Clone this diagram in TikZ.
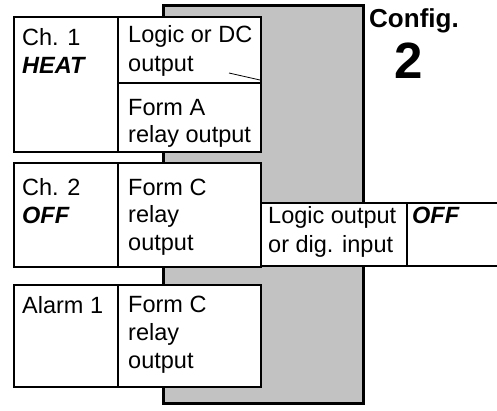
\documentclass[tikz,border=0pt]{standalone}
\usepackage{fontspec}
\setmainfont{Liberation Sans}
\begin{document}
\begin{tikzpicture}[x=1pt,y=-1pt,
  box/.style={draw=black, line width=2pt, fill=white, inner sep=0pt, outer sep=0pt, anchor=north west},
  panel/.style={draw=black, line width=3pt, fill=black!24, inner sep=0pt, outer sep=0pt, anchor=north west},
  lbl/.style={anchor=base west, inner sep=0pt, font=\fontsize{23.5}{26}\selectfont},
  blbl/.style={lbl, font=\fontsize{23.5}{26}\selectfont\bfseries\itshape}]
\useasboundingbox (0,0) rectangle (497,410);
% shaded panel
\node[panel, minimum width=200pt, minimum height=398pt] (panel) at (163,5) {};
% Ch. 1
\node[box, minimum width=104pt, minimum height=135pt] (c1l) at (14,17) {};
\node[box, minimum width=143pt, minimum height=66pt] (c1a) at (118,17) {};
\node[box, minimum width=143pt, minimum height=69pt] (c1b) at (118,83) {};
% Ch. 2
\node[box, minimum width=104pt, minimum height=104pt] (c2l) at (14,163) {};
\node[box, minimum width=143pt, minimum height=104pt] (c2r) at (118,163) {};
% Alarm 1
\node[box, minimum width=104pt, minimum height=102pt] (all) at (14,285) {};
\node[box, minimum width=143pt, minimum height=102pt] (alr) at (118,285) {};
% Logic output box and OFF box
\node[box, minimum width=146pt, minimum height=63pt] (lo) at (261,203) {};
\node[inner sep=0pt, outer sep=0pt, anchor=north west, minimum width=90pt, minimum height=63pt] (offb) at (407,203) {};
\draw[line width=2pt] (offb.north east) -- (offb.north west) -- (offb.south west) -- (offb.south east);
% stray mark
\coordinate (m1) at (229,73);
\coordinate (m2) at (260,80);
\draw[line width=0.8pt] (m1) -- (m2);
% texts
\node[lbl] (t1) at (22,45) {Ch. 1};
\node[blbl] (t2) at (22,73) {HEAT};
\node[lbl] (t3) at (128,42) {Logic or DC};
\node[lbl] (t4) at (128,71) {output};
\node[lbl] (t5) at (128,115) {Form A};
\node[lbl] (t6) at (128,142) {relay output};
\node[lbl] (t7) at (22,195) {Ch. 2};
\node[blbl] (t8) at (22,223) {OFF};
\node[lbl] (t9) at (128,195) {Form C};
\node[lbl] (t10) at (128,222) {relay};
\node[lbl] (t11) at (128,250) {output};
\node[lbl] (t12) at (22,313) {Alarm 1};
\node[lbl] (t13) at (128,312) {Form C};
\node[lbl] (t14) at (128,340) {relay};
\node[lbl] (t15) at (128,368) {output};
\node[lbl] (t16) at (268,223) {Logic output};
\node[lbl] (t17) at (268,252) {or dig. input};
\node[blbl] (t18) at (412,223) {OFF};
\node[lbl, font=\fontsize{26}{28}\selectfont\bfseries] (t19) at (369,27) {Config.};
\node[lbl, font=\fontsize{51}{56}\selectfont\bfseries] (t20) at (394,78) {2};
\end{tikzpicture}
\end{document}
